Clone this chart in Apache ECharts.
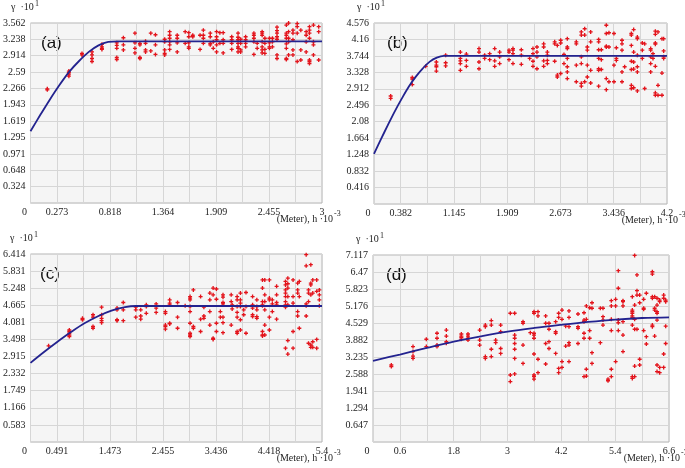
<!DOCTYPE html>
<html><head><meta charset="utf-8">
<script src="https://cdn.jsdelivr.net/npm/echarts/dist/echarts.min.js"></script>
<style>html,body{margin:0;padding:0;background:#fff}#c{width:685px;height:468px}</style>
</head><body><div id="c"></div>
<script>
// ---------- tick labels ----------
var xLabelsA = ['0','0.273','0.818','1.364','1.909','2.455','3'];
var yLabelsA = ['0.324','0.648','0.971','1.295','1.619','1.943','2.266','2.59','2.914','3.238','3.562'];
var xLabelsB = ['0','0.382','1.145','1.909','2.673','3.436','4.2'];
var yLabelsB = ['0.416','0.832','1.248','1.664','2.08','2.496','2.912','3.328','3.744','4.16','4.576'];
var xLabelsC = ['0','0.491','1.473','2.455','3.436','4.418','5.4'];
var yLabelsC = ['0.583','1.166','1.749','2.332','2.915','3.498','4.081','4.665','5.248','5.831','6.414'];
var xLabelsD = ['0','0.6','1.8','3','4.2','5.4','6.6'];
var yLabelsD = ['0.647','1.294','1.941','2.588','3.235','3.882','4.529','5.176','5.823','6.47','7.117'];

// ---------- fitted curves ----------
var curveHA = [0,0.1,0.2,0.3,0.4,0.5,0.6,0.7,0.8,0.9,1.5,2.0,2.5,3];
var curveGA = [1.42,1.74,2.05,2.34,2.6,2.81,2.99,3.12,3.19,3.2,3.2,3.2,3.2,3.2];
var curveHB = [0,0.1,0.2,0.3,0.4,0.5,0.6,0.7,0.8,0.9,1.0,1.6,2.2,2.8,3.4,4.2];
var curveGB = [1.27,1.64,2.0,2.35,2.67,2.97,3.22,3.43,3.6,3.7,3.744,3.744,3.744,3.744,3.744,3.744];
var curveHC = [0,0.25,0.5,0.75,1.0,1.25,1.5,1.75,1.95,2.5,3.2,3.9,4.6,5.4];
var curveGC = [2.70,3.07,3.42,3.75,4.05,4.29,4.48,4.6,4.64,4.64,4.64,4.64,4.64,4.64];
var curveHD = [0,0.6,1.2,1.8,2.4,3.0,3.6,4.2,4.8,5.4,6.0,6.6];
var curveGD = [3.09,3.33,3.58,3.82,4.02,4.2,4.34,4.46,4.57,4.66,4.72,4.745];

// ---------- empirical points: [h, [gamma values]] ----------
var ptsA = [
[0.173,[2.26,2.24]],[0.395,[2.61,2.58,2.55,2.51]],[0.53,[2.96,2.93]],
[0.633,[2.99,2.93,2.86,2.80]],[0.735,[3.14,3.09,3.06,3.04]],[0.888,[3.17,3.12,3.06,2.88,2.84]],
[0.956,[3.27,3.13,3.03]],[1.075,[3.36,3.17,3.06,2.97]],[1.126,[3.16,3.13,2.88,2.86]],
[1.184,[3.2,3.16,3.03,2.99]],[1.238,[3.36,3.01]],[1.286,[3.33,3.13,2.94]],
[1.381,[3.24,3.19,3.03,2.96,2.93]],[1.432,[3.39,3.32,3.26,3.19,3.13,3.04]],[1.51,[3.32,3.26,3.17,2.99]],
[1.592,[3.39,3.16]],[1.629,[3.37,3.29,3.17,3.09,3.06]],[1.67,[3.32,3.29]],
[1.745,[3.32,3.04]],[1.779,[3.42,3.32,3.26,3.16]],[1.85,[3.36,3.29,3.16,3.13]],
[1.881,[3.19,3.06]],[1.915,[3.39,3.29,3.23,3.13,2.99]],[1.949,[3.37,3.16]],
[1.983,[3.37,3.23,3.16,2.97]],[2.071,[3.29,3.23,3.16,3.04]],[2.136,[3.36,3.28,3.23,3.16,3.09,3.06,2.99]],
[2.163,[3.24,3.16,3.03,2.99]],[2.214,[3.29,3.23,3.16,3.09]],[2.299,[3.36,3.32,3.26,3.19,2.94]],
[2.333,[3.16,3.06]],[2.384,[3.39,3.36,3.32,3.19,3.09,3.03,2.97]],[2.412,[3.26,3.16,3.04,2.96]],
[2.459,[3.26,3.17,3.09,3.06]],[2.49,[3.26,3.19,3.09]],[2.537,[3.48,3.41,3.36,3.29,3.24,2.93,2.86]],
[2.633,[3.52,3.36,3.32,3.26,3.15,3.06,2.86,2.84]],[2.656,[3.56,3.39,3.26,3.19,2.93]],
[2.701,[3.42,3.36,3.23,3.03,2.93]],[2.745,[3.55,3.49,3.36,2.8]],[2.782,[3.42,3.03,2.83]],
[2.837,[3.39,3.32,3.19,2.99]],[2.871,[3.49,3.42,3.36,3.26,2.83,2.8,2.76]],
[2.912,[3.52,3.19,3.13,2.93]],[2.966,[3.49,3.39,2.83]]
];
var ptsB = [
[0.239,[2.73,2.67]],[0.549,[3.2,3.16,3.02]],[0.741,[3.48]],[0.894,[3.59,3.51,3.47,3.36]],
[1.027,[3.76,3.57,3.49]],[1.238,[3.84,3.68,3.62,3.55,3.38]],[1.324,[3.79,3.63,3.48]],
[1.505,[3.93,3.84,3.59,3.42]],[1.586,[3.76,3.68]],[1.658,[3.8,3.65]],[1.73,[3.93,3.62,3.48]],
[1.801,[3.84,3.72,3.55]],[1.935,[3.89,3.84,3.65]],[1.992,[3.93,3.89,3.8,3.55]],
[2.112,[3.9,3.76,3.53]],[2.231,[3.68]],[2.279,[3.93,3.8,3.61,3.48]],[2.336,[3.97,3.84,3.72,3.42]],
[2.432,[4.05,3.97,3.62,3.48]],[2.485,[3.84,3.76,3.63,3.55]],[2.59,[4.1,4.05,3.61]],
[2.628,[4.01,3.26,3.21]],[2.676,[4.14,4.07,3.3]],[2.723,[3.78,3.55]],
[2.771,[4.18,3.97,3.93,3.68,3.47,3.34,3.17]],[2.9,[4.1,4.05,3.51,3.09]],
[2.972,[4.35,4.27,3.72,3.55,3.05,2.98]],[3.02,[4.43,4.27,3.09]],[3.058,[3.97,3.89,3.51,3.21]],
[3.106,[4.35,4.1,3.38,3.06]],[3.22,[4.16,4.1,3.9,3.68,3.42,3.38,2.98]],[3.259,[3.9,3.65,3.4]],
[3.33,[4.52,4.31,3.99,3.97,3.17,2.89]],[3.368,[4.58,4.33,3.97,3.09]],[3.44,[4.31,3.51,3.09]],
[3.474,[3.95,3.68,3.63]],[3.555,[4.14,4.05,3.89,3.34,3.09]],[3.593,[3.47]],
[3.689,[4.31,4.27,4.01,3.61,3.4,3.0,2.92]],[3.722,[4.41,3.84,3.59,3.41,2.94]],
[3.775,[4.22,4.18,3.76,3.47,3.34,2.86]],[3.846,[4.07,3.89,3.68]],[3.88,[4.05,2.92]],
[3.966,[3.93,3.89,3.72,3.55,3.34]],[3.999,[3.8,3.68]],[4.033,[4.37,4.29,4.07,4.04,3.48,2.81,2.75]],
[4.071,[4.35,3.0,2.75]],[4.128,[4.18,3.31,2.75]],[4.152,[4.18,3.87,3.72,3.68]]
];
var ptsC = [
[0.335,[3.28]],[0.719,[3.82,3.77,3.71,3.65,3.6]],[0.963,[4.22,4.17]],[1.158,[4.34,4.26,3.94,3.88]],
[1.317,[4.6,4.34,4.22,4.14,4.07]],[1.603,[4.57,4.51,4.17,4.14]],[1.719,[4.76,4.51,4.14]],
[1.95,[4.6,4.51,4.26]],[2.042,[4.51,4.3,4.19]],[2.145,[4.68,4.62,4.39]],[2.328,[4.71,4.57,4.42]],
[2.499,[4.45,4.39,3.99,3.94,3.85]],[2.578,[4.85,4.74,4.68,4.05,4.03]],[2.724,[4.76,4.26,3.88]],
[2.865,[4.65]],[2.956,[4.96,4.91,4.85,4.62,4.45,4.05,3.71,3.65,3.6]],[3.017,[5.19,3.94,3.88]],
[3.151,[4.96,4.19,3.77]],[3.212,[4.6,4.3,4.22]],[3.322,[5.08,4.85,4.45,3.99]],
[3.383,[5.25,5.02,3.54,3.5]],[3.444,[5.22,4.87,4.05,3.77]],[3.517,[4.45,4.26]],
[3.566,[5.02,4.94,4.76,4.71,4.26,4.07,3.73]],[3.718,[5.02,4.79,3.99]],[3.736,[4.54,4.68]],
[3.828,[4.96,4.85,4.62,4.42,4.26,3.77,3.71]],[3.889,[5.08,4.85,4.74,4.62,4.17,3.82]],
[3.95,[4.51,4.34]],[3.992,[5.1,4.62,3.71]],[4.114,[4.96,4.68,4.57,4.34,4.28]],
[4.193,[4.85,4.62,4.51,4.28,4.22]],[4.297,[5.53,5.25,4.79,4.68,4.65,3.77,3.65,3.62]],
[4.34,[5.53,5.02,4.79,4.51,3.99,3.65]],[4.425,[5.53,4.91,4.85,4.26,3.82]],[4.48,[4.85,4.71,4.45]],
[4.559,[5.31,5.02,4.76,4.68,4.19]],[4.724,[5.48,5.36,5.19,5.08,4.96,4.79,4.68,4.6,3.2]],
[4.767,[5.59,5.4,5.25,4.96,4.68,3.46,3.0]],[4.864,[5.53,4.96,4.74,3.77,3.2]],
[4.949,[5.42,5.19,5.08,4.45,4.3]],[4.98,[5.48,4.96,3.88]],[5.107,[6.39,6.01,4.71,4.65,4.3]],
[5.15,[5.19,5.08,4.79,3.37]],[5.193,[6.05,5.42,5.36,5.02,3.31,3.23]],[5.229,[5.53,5.08,3.42,3.23]],
[5.302,[5.53,5.14,3.5,3.2]],[5.351,[5.19,5.02,4.85,4.65]]
];
var ptsD = [
[0.409,[2.93,2.87]],[0.892,[3.63,3.44,3.27,3.18]],[1.189,[3.91,3.63]],[1.427,[4.14,3.95,3.69,3.63]],
[1.635,[4.26,4.03,3.82,3.76]],[1.97,[4.11,4.03,3.98,3.91]],[2.118,[4.11,4.03,3.95,3.88]],
[2.378,[4.26,3.88,3.69]],[2.505,[4.45,4.39,3.25,3.18]],[2.638,[4.62,4.45,3.53,3.25]],
[2.735,[3.88,3.78]],[2.847,[4.45,4.2,3.56,3.37]],[3.062,[4.9,2.55,2.3]],
[3.159,[4.9,4.07,3.95,3.75,3.53,3.18,2.59]],[3.345,[4.58,4.52,3.69,2.99]],[3.508,[4.16]],
[3.59,[4.96,4.9,4.14,4.07,3.95,3.35,2.55,2.49,2.39]],[3.679,[4.96,4.8,3.15,2.64]],
[3.85,[4.8,4.52,3.75,2.97]],[3.924,[4.52,4.29,3.82,3.56]],[4.073,[4.58,4.2,4.14,3.37]],
[4.14,[4.9,4.74,2.8,2.64]],[4.214,[5.02,4.67,3.06,2.84]],[4.296,[4.41,3.65]],
[4.37,[4.99,4.74,4.39,3.78,3.69,3.06]],[4.571,[4.87,4.39,4.33,3.75]],
[4.705,[4.92,4.64,4.58,4.14,3.95,2.49]],[4.757,[5.18,4.67,2.77,2.51]],[4.831,[5.11,4.24,3.95]],
[4.883,[5.3,5.09,3.4,2.99]],[5.069,[5.09,3.78]],[5.128,[5.09,4.77,4.64,4.45]],[5.24,[2.39,2.33]],
[5.314,[5.38,5.18,4.67,4.24,2.77,2.49]],[5.41,[5.43,5.18,3.06]],[5.47,[6.52,5.85,4.64,4.54,4.24]],
[5.574,[5.38,5.34,5.18,4.58,4.07,3.44]],[5.782,[5.53,5.02,4.96,4.9,4.8,4.74,4.45,2.49,2.42]],
[5.834,[7.1,5.21,4.67,4.29,2.89,2.49]],[5.886,[6.36,5.76,5.59,4.29]],[5.946,[5.59,5.3,3.15,2.93]],
[6.035,[5.43,5.09,5.05,4.24]],[6.095,[5.66,4.01,3.73]],[6.229,[6.48,6.39,5.53,5.47,4.45,4.39]],
[6.28,[5.53,5.09,5.02,4.03]],[6.333,[5.47,5.21,4.96,4.9,4.64,2.93,2.68]],
[6.392,[5.4,5.34,2.84,2.64]],[6.481,[5.59,5.47,3.35,2.84]],[6.526,[5.4,5.34,4.41,3.75]]
];
var panelNames = ['(a)','(b)','(c)','(d)'];

// ---------- build ----------
var panels = [
  {xl:xLabelsA, yl:yLabelsA, ch:curveHA, cg:curveGA, pts:ptsA, grid:{left:28, top:23, width:294, height:180}},
  {xl:xLabelsB, yl:yLabelsB, ch:curveHB, cg:curveGB, pts:ptsB, grid:{left:374, top:23, width:293, height:181}},
  {xl:xLabelsC, yl:yLabelsC, ch:curveHC, cg:curveGC, pts:ptsC, grid:{left:27, top:254, width:295, height:188}},
  {xl:xLabelsD, yl:yLabelsD, ch:curveHD, cg:curveGD, pts:ptsD, grid:{left:373, top:255, width:296, height:187}}
];
var labFont = 'Liberation Serif';
var grids=[], xAxes=[], yAxes=[], series=[], graphics=[];
var plusPath = 'path://M1,0H2V1H3V2H2V3H1V2H0V1H1Z';
panels.forEach(function(p, i){
  var xMax = parseFloat(p.xl[p.xl.length-1]);
  var yMax = parseFloat(p.yl[p.yl.length-1]);
  var xi = xMax/11, yi = yMax/11;
  grids.push(Object.assign({show:true, backgroundColor:'#f5f5f5', borderColor:'#b4b4b4', borderWidth:1, containLabel:false}, p.grid));
  xAxes.push({type:'value', gridIndex:i, min:0, max:xMax, interval:xi,
    axisLine:{show:false}, axisTick:{show:false},
    splitLine:{show:true, lineStyle:{color:'#d6d6d6', width:1}},
    axisLabel:{showMinLabel:true, showMaxLabel:true, margin:4, color:'#222', fontFamily:labFont, fontSize:10,
      formatter:function(v){ var k=Math.round(v/xi); if(k===0) return '{z|'+p.xl[0]+'}'; if(k%2===1) return p.xl[(k+1)/2]; return ''; },
      rich:{z:{padding:[0,12,0,0], color:'#222', fontFamily:labFont, fontSize:10}}}
  });
  yAxes.push({type:'value', gridIndex:i, min:0, max:yMax, interval:yi,
    axisLine:{show:false}, axisTick:{show:false},
    splitLine:{show:true, lineStyle:{color:'#d6d6d6', width:1}},
    axisLabel:{showMinLabel:true, showMaxLabel:true, margin:5, color:'#222', fontFamily:labFont, fontSize:10,
      formatter:function(v){ var k=Math.round(v/yi); return k===0 ? '' : p.yl[k-1]; }}
  });
  var data=[];
  p.pts.forEach(function(c){ c[1].forEach(function(g){ data.push([c[0], g]); }); });
  series.push({type:'scatter', xAxisIndex:i, yAxisIndex:i, data:data, symbol:plusPath, symbolSize:4,
    itemStyle:{color:'#e3141c', opacity:1}, z:2, silent:true});
  series.push({type:'line', xAxisIndex:i, yAxisIndex:i, data:p.ch.map(function(h,j){return [h, p.cg[j]];}),
    showSymbol:false, smooth:0.35, lineStyle:{color:'#23238f', width:1.8}, z:5, silent:true});
  var g = p.grid;
  // panel letter
  graphics.push({type:'text', left:g.left+13, top:g.top+12, style:{text:panelNames[i], font:'17px "Liberation Sans", Arial, sans-serif', fill:'#111'}});
  // y-axis title
  graphics.push({type:'text', x:g.left-17, y:g.top-16, style:{text:'γ  ·10', font:'10px "Liberation Serif"', fill:'#222', textVerticalAlign:'middle'}});
  graphics.push({type:'text', x:g.left+7, y:g.top-19, style:{text:'1', font:'8px "Liberation Serif"', fill:'#222', textVerticalAlign:'middle'}});
  // x-axis title
  var xr = g.left + g.width + 11;
  var yb = g.top + g.height + 16;
  graphics.push({type:'text', x:xr, y:yb, style:{text:'(Meter), h ·10', font:'10px "Liberation Serif"', fill:'#222', textAlign:'right', textVerticalAlign:'middle'}});
  graphics.push({type:'text', x:xr+1, y:yb-5, style:{text:'-3', font:'8px "Liberation Serif"', fill:'#222', textAlign:'left', textVerticalAlign:'middle'}});
});

var chart = echarts.init(document.getElementById('c'), null, {renderer:'canvas'});
chart.setOption({animation:false, backgroundColor:'#fff', grid:grids, xAxis:xAxes, yAxis:yAxes, series:series, graphic:graphics});
</script></body></html>
